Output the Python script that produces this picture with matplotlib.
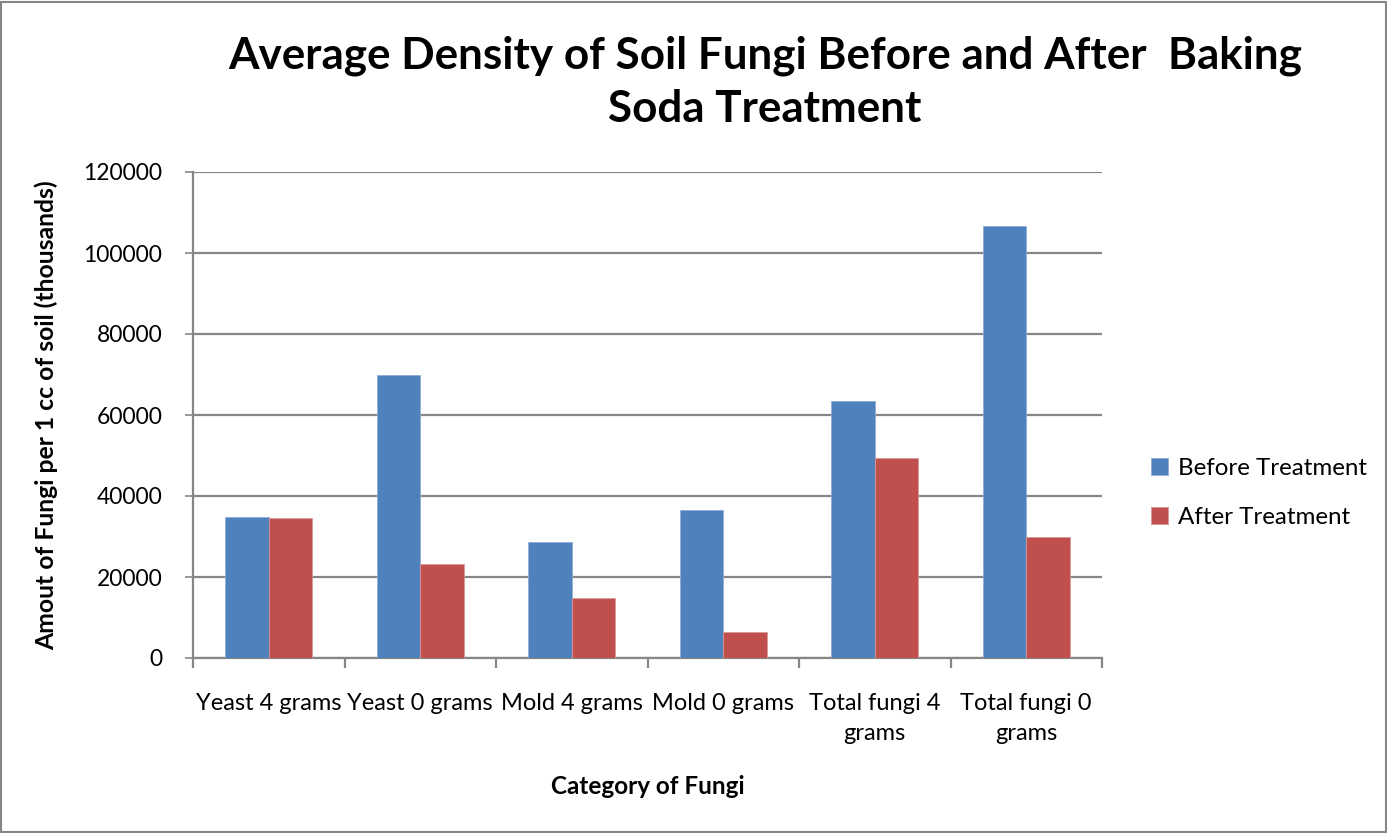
import numpy as np
import matplotlib.pyplot as plt
from matplotlib.patches import Rectangle

categories = ["Yeast 4 grams", "Yeast 0 grams", "Mold 4 grams", "Mold 0 grams",
              "Total fungi 4\ngrams", "Total fungi 0\ngrams"]
before = [34900, 69900, 28600, 36600, 63500, 106600]
after = [34500, 23200, 14900, 6500, 49500, 29800]

plt.rcParams['font.family'] = ['Lato', 'DejaVu Sans']

fig = plt.figure(figsize=(13.87, 8.33), dpi=100)
ax = fig.add_axes([193 / 1387, 1 - 658 / 833, (1102 - 193) / 1387, (658 - 172) / 833])

x = np.arange(len(categories))
w = 0.287
ax.bar(x - w / 2, before, w, color='#4F81BD', edgecolor='#8DADD8', linewidth=0.6,
       label='Before Treatment', zorder=3)
ax.bar(x + w / 2, after, w, color='#C0504D', edgecolor='#DA9896', linewidth=0.6,
       label='After Treatment', zorder=3)

ax.set_xlim(-0.5, len(categories) - 0.5)
ax.set_ylim(0, 120000)
ax.set_yticks(np.arange(0, 120001, 20000))
ax.tick_params(axis='y', labelsize=16.5, length=6, width=1.2, color='#868686', pad=16)
ax.yaxis.grid(True, color='#868686', linewidth=1.6, zorder=0)

# category labels sit between the boundary ticks
ax.set_xticks(x)
ax.set_xticklabels(categories, fontsize=17, linespacing=1.55)
ax.tick_params(axis='x', length=0, pad=25)
ax.set_xticks(np.arange(-0.5, len(categories)), minor=True)
ax.tick_params(axis='x', which='minor', length=7, width=1.6, color='#868686')

for s in ['top', 'right']:
    ax.spines[s].set_visible(False)
for s in ['left', 'bottom']:
    ax.spines[s].set_color('#868686')
    ax.spines[s].set_linewidth(1.6)

ax.set_ylabel('Amout of Fungi per 1 cc of soil (thousands)', fontsize=17.8,
              fontweight='bold', labelpad=18)
ax.set_xlabel('Category of Fungi', fontsize=17.5, fontweight='bold', labelpad=22)

fig.text(765 / 1387, 1 - 82 / 833, 'Average Density of Soil Fungi Before and After  Baking\nSoda Treatment',
         ha='center', va='center', fontsize=31.7, fontweight='bold', linespacing=1.4)

ax.legend(loc='center left', bbox_to_anchor=(1.03, 0.34), frameon=False,
          fontsize=17.4, handlelength=0.7, handleheight=0.7, labelspacing=1.15,
          handletextpad=0.4)

fig.patches.append(Rectangle((0.001, 0.001), 0.998, 0.997, transform=fig.transFigure,
                             fill=False, edgecolor='#868686', linewidth=1.5))

fig.savefig('out.png', dpi=100)
